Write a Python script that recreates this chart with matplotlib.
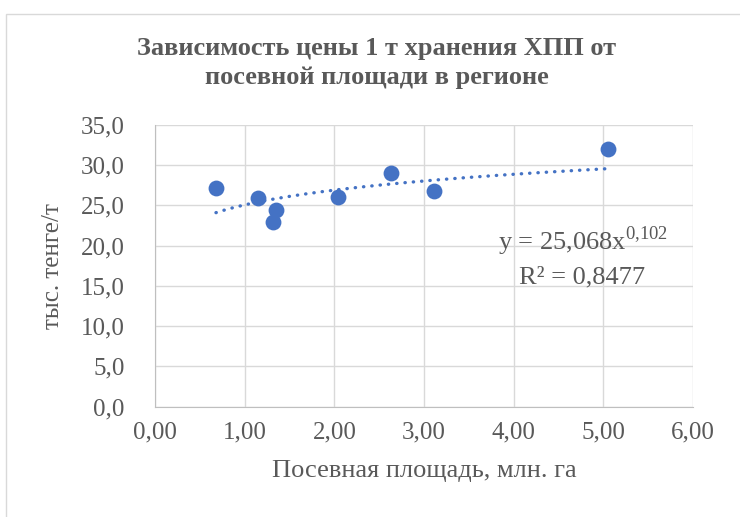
import numpy as np
import matplotlib
matplotlib.use("Agg")
import matplotlib.pyplot as plt
from matplotlib.patches import Rectangle

# посевная площадь, млн. га
area = [0.68, 1.15, 1.35, 1.32, 2.04, 2.63, 3.11, 5.05]
# цена хранения, тыс. тенге/т
price = [27.2, 25.9, 24.4, 22.9, 26.1, 29.0, 26.8, 32.0]

# power trendline from the chart label
coef_a = 25.068
coef_b = 0.102
r2_text = "R² = 0,8477"

x_ticks = [0, 1, 2, 3, 4, 5, 6]
y_ticks = [0, 5, 10, 15, 20, 25, 30, 35]

plt.rcParams["font.family"] = ["Liberation Serif", "DejaVu Serif"]
plt.rcParams["mathtext.fontset"] = "custom"
plt.rcParams["mathtext.rm"] = "Liberation Serif"

txt = "#595959"
blue = "#4472C4"

fig = plt.figure(figsize=(7.4, 5.17), dpi=100)
fig.patches.append(Rectangle((6 / 740, -0.1), 1.2, (517 - 14) / 517 + 0.1,
                             transform=fig.transFigure, fill=False,
                             edgecolor="#d9d9d9", linewidth=1.0))

ax = fig.add_axes([155 / 740, 1 - 406.5 / 517, (693 - 155) / 740, (406.5 - 125) / 517])

ax.scatter(area, price, s=130, color=blue, zorder=3, linewidths=0)

xs = np.linspace(min(area), max(area), 200)
ax.plot(xs, coef_a * xs ** coef_b, color=blue, linewidth=2.4,
        linestyle=(0, (0.1, 2.4)), dash_capstyle="round", zorder=2)

ax.set_xlim(0, 6)
ax.set_ylim(0, 35)
ax.set_xticks(x_ticks)
ax.set_yticks(y_ticks)
ax.set_xticklabels([f"{v:.2f}".replace(".", ",") for v in x_ticks])
ax.set_yticklabels([f"{v:.1f}".replace(".", ",") for v in y_ticks])
ax.tick_params(length=0, labelsize=18, labelcolor=txt)
ax.tick_params(axis="x", pad=11)
ax.tick_params(axis="y", pad=22)
ax.grid(True, color="#d9d9d9", linewidth=1.0)
ax.set_axisbelow(True)
for s in ["top", "right"]:
    ax.spines[s].set_visible(False)
for s in ["left", "bottom"]:
    ax.spines[s].set_color("#bfbfbf")

ax.set_xlabel("Посевная площадь, млн. га", fontsize=19, color=txt, labelpad=12)
ax.set_ylabel("тыс. тенге/т", fontsize=18, color=txt, labelpad=12)

fig.text(377 / 740, 1 - 63 / 517,
         "Зависимость цены 1 т хранения ХПП от\nпосевной площади в регионе",
         ha="center", va="center", fontsize=19, fontweight="bold", color=txt,
         linespacing=1.3)

ax.text(3.83, 20.6, r"y = 25,068x$^{0{,}102}$", fontsize=19, color=txt, ha="left", va="center")
ax.text(4.06, 16.0, r2_text, fontsize=19, color=txt, ha="left", va="center")

fig.savefig("out.png", dpi=100)
